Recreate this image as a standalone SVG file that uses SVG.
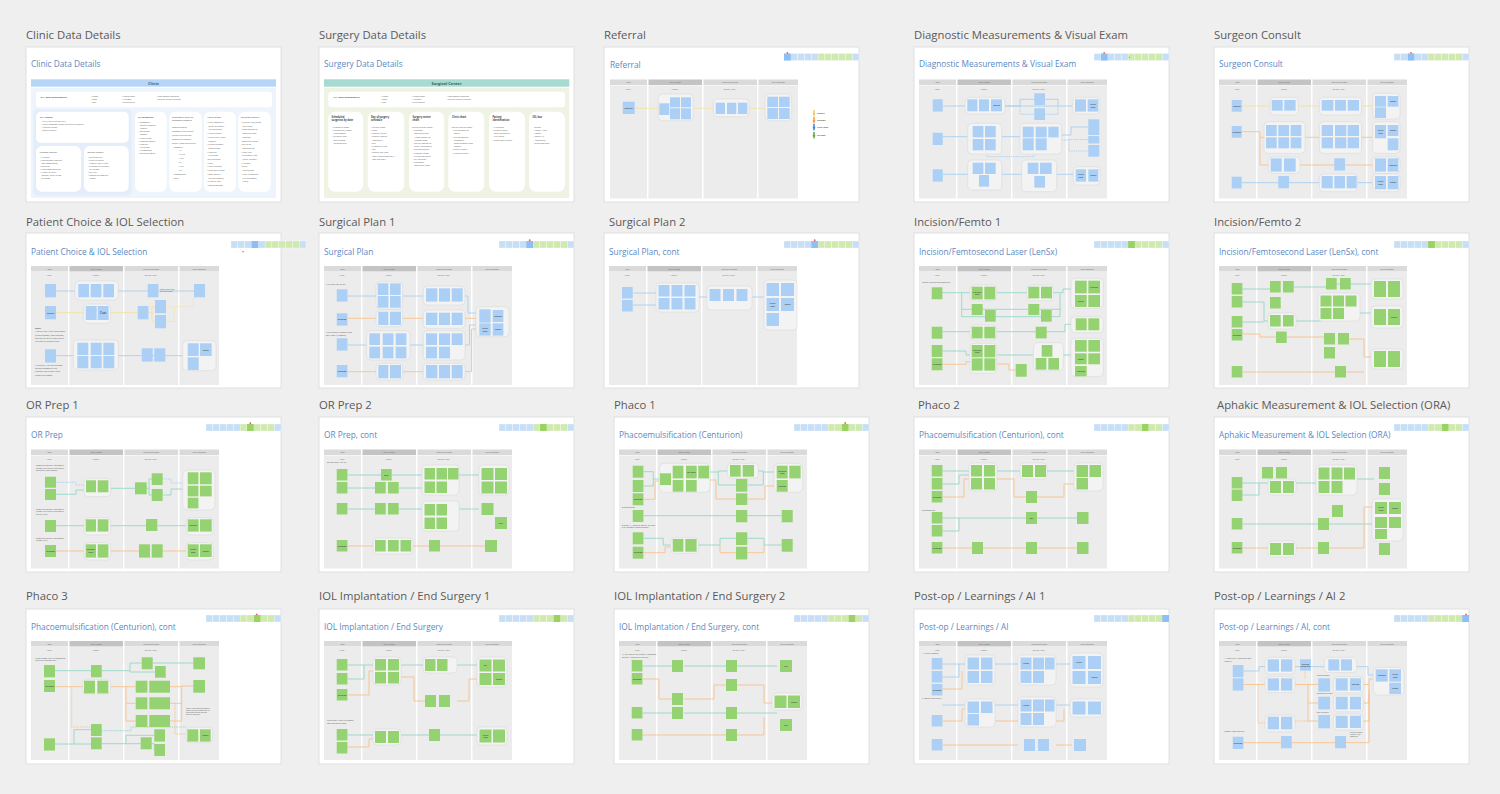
<svg xmlns="http://www.w3.org/2000/svg" width="1500" height="794" viewBox="0 0 1500 794">
<style>
.bg{fill:#efefef}
.card{fill:#fff;stroke:#e0e0e0;stroke-width:1}
.ct{font-family:"Open Sans",sans-serif;font-size:11.3px;fill:#5a5a5a}
.st{font-family:"Open Sans",sans-serif;font-size:8.3px;fill:#5b88c4}
.th{font-family:"Open Sans",sans-serif;font-size:2.1px;fill:#666;text-anchor:middle}
.tx{font-family:"Open Sans",sans-serif;font-size:2.1px;fill:#555}
.hd{font-family:"Open Sans",sans-serif;font-size:4px;font-weight:bold;text-anchor:middle}
.b{font-weight:bold}
.h2{font-size:2.5px;fill:#444}
.nt{font-family:"Open Sans",sans-serif;font-size:2.2px;font-weight:600;fill:#444;text-anchor:middle}
.w{fill:#fff}
.nb{fill:#abcff5}
.ng{fill:#95d372}
.g{fill:#f3f3f3;stroke:#d5d5d5;stroke-width:0.5}
.l{fill:none;stroke-width:0.9}
.ly{stroke:#f4e2a3}.lb{stroke:#a9d0f0}.lo{stroke:#f7c38d}.lt{stroke:#95d8c8}
.d{stroke-dasharray:1.4 0.9}
.cb{fill:#c7def7}.cg{fill:#d0e9af}.hb{fill:#8dbff2}.hg{fill:#9ad363}
.rd{fill:#ef5b5b}
</style>
<defs>
<g id="tbl">
<rect x="0" y="0" width="37" height="5.5" fill="#dadada"/>
<rect x="38.5" y="0" width="53.5" height="5.5" fill="#c3c3c3"/>
<rect x="93.5" y="0" width="53.5" height="5.5" fill="#dadada"/>
<rect x="148.5" y="0" width="39.5" height="5.5" fill="#dadada"/>
<rect x="0" y="6" width="37" height="113" fill="#ececec"/>
<rect x="38.5" y="6" width="53.5" height="113" fill="#ececec"/>
<rect x="93.5" y="6" width="53.5" height="113" fill="#ececec"/>
<rect x="148.5" y="6" width="39.5" height="113" fill="#ececec"/>
<text class="th" x="18.5" y="3.6">Role</text>
<text class="th" x="65.2" y="3.6">Data Needs</text>
<text class="th" x="120.2" y="3.6">Task or Decision</text>
<text class="th" x="168.2" y="3.6">Data Location</text>
<text class="th" x="18.5" y="10">Who...</text>
<text class="th" x="65.2" y="10">I need...</text>
<text class="th" x="120.2" y="10">so that I can...</text>
</g>
<g id="strip" stroke="#fff" stroke-width="0.3">
<rect class="cb" x="0" width="6.82" height="7"/><rect class="cb" x="6.82" width="6.82" height="7"/><rect class="cb" x="13.64" width="6.82" height="7"/><rect class="cb" x="20.46" width="6.82" height="7"/><rect class="cb" x="27.28" width="6.82" height="7"/>
<rect class="cg" x="34.1" width="6.82" height="7"/><rect class="cg" x="40.92" width="6.82" height="7"/><rect class="cg" x="47.74" width="6.82" height="7"/><rect class="cg" x="54.56" width="6.82" height="7"/><rect class="cg" x="61.38" width="6.82" height="7"/>
<rect class="cb" x="68.2" width="6.82" height="7"/>
</g>
<g id="pp"><circle cx="0" cy="-2" r="1"/><rect x="-1.2" y="-0.8" width="2.4" height="2.6" rx="0.6"/><rect x="-0.7" y="1.6" width="1.4" height="1.8"/></g>
</defs>
<rect class="bg" width="1500" height="794"/>

<!-- Card 1 -->
<g id="clinic-data-details" transform="translate(26,47)">
<text class="ct" y="-8">Clinic Data Details</text>
<rect class="card" width="255" height="155"/>
<text class="st" x="5" y="20">Clinic Data Details</text>
<rect x="5" y="32.3" width="245" height="7.4" fill="#b7d6f6"/>
<text class="hd" x="127.5" y="37.5" fill="#2f5f9e">Clinic</text>
<rect x="5" y="40.7" width="245" height="110.3" fill="#edf4fc"/>
<rect class="w" x="10" y="44.7" width="236" height="15.6" rx="3"/>
<text class="tx b" x="14.5" y="51">PHI - Basic demographics:</text>
<text class="tx" x="65" y="49.5">• Name<tspan x="65" dy="3">• DOB</tspan><tspan x="65" dy="3">• SSN</tspan></text>
<text class="tx" x="95.7" y="49.5">• Medications<tspan x="95.7" dy="3">• Allergies</tspan><tspan x="95.7" dy="3">• Referring Dr.</tspan></text>
<text class="tx" x="130.7" y="49.5">• Non-English speaking<tspan x="130.7" dy="3">• Deaf or hard of hearing</tspan></text>
<rect x="7.3" y="62.3" width="98.4" height="86.5" rx="4" fill="#e4eefa"/>
<rect class="w" x="10" y="64.7" width="92.7" height="31" rx="5"/>
<text class="tx b" x="14" y="70.5">PHI - Details</text>
<text class="tx" x="15.5" y="74.5">• NPI (Health Patient ID#)<tspan x="15.5" dy="3">• Chart Company (given for elective surgery)</tspan><tspan x="15.5" dy="3">• Medical history</tspan><tspan x="15.5" dy="3">• Ocular history</tspan></text>
<rect class="w" x="10" y="99" width="45" height="45.7" rx="6"/>
<text class="tx h2" x="13.5" y="106">Medical history</text>
<text class="tx" x="14" y="111">• Allergies<tspan x="14" dy="3">• Medications (and any</tspan><tspan x="15.5" dy="3">non-compliance)</tspan><tspan x="14" dy="3">• Diabetes</tspan><tspan x="14" dy="3">• High blood pressure</tspan><tspan x="14" dy="3">• History of heart</tspan><tspan x="15.5" dy="3">disease, heart attack,</tspan><tspan x="15.5" dy="3">or stroke</tspan></text>
<rect class="w" x="58" y="99" width="44.7" height="45.7" rx="6"/>
<text class="tx h2" x="61.5" y="106">Ocular history</text>
<text class="tx" x="62" y="111">• Referring MD<tspan x="62" dy="3">• Prior refractive</tspan><tspan x="63.5" dy="3">surgery (incl. LASIK)</tspan><tspan x="62" dy="3">• Previous eye surgery</tspan><tspan x="63.5" dy="3">or trauma</tspan><tspan x="62" dy="3">• Dry eye</tspan><tspan x="62" dy="3">• Contact/intraocular</tspan><tspan x="63.5" dy="3">lenses</tspan></text>
<rect class="w" x="109" y="64.7" width="31.7" height="80" rx="6"/>
<text class="tx b" x="112" y="71">Pre-op workup</text>
<text class="tx" x="112.5" y="76">• Diagnostic<tspan x="114" dy="3.1">device standard</tspan><tspan x="114" dy="3.1">reports</tspan><tspan x="112.5" dy="3.1">• Refraction</tspan><tspan x="114" dy="3.1">images</tspan><tspan x="112.5" dy="3.1">• Visual exam</tspan><tspan x="112.5" dy="3.1">• Surgeon consult</tspan><tspan x="112.5" dy="3.1">• Manifest</tspan><tspan x="114" dy="3.1">refraction</tspan><tspan x="112.5" dy="3.1">• Astigmatism</tspan><tspan x="112.5" dy="3.1">• Refractive goals</tspan></text>
<rect class="w" x="143.3" y="64.7" width="32.4" height="80" rx="6"/>
<text class="tx h2" x="146" y="71">Diagnostic data or<tspan x="146" dy="3.3">standard reports</tspan></text>
<text class="tx" x="146" y="81">Combination of<tspan x="146" dy="3.9">diagnostic data values</tspan><tspan x="146" dy="3.9">(values entered and</tspan><tspan x="146" dy="3.9">images or standard</tspan><tspan x="146" dy="3.9">output from each device</tspan><tspan x="147" dy="3.9">• Biometry</tspan><tspan x="152" dy="3.9">◦ AL</tspan><tspan x="152" dy="3.9">◦ K1/K2</tspan><tspan x="152" dy="3.9">◦ ACD</tspan><tspan x="152" dy="3.9">◦ LT</tspan><tspan x="152" dy="3.9">◦ WTW</tspan><tspan x="152" dy="3.9">◦ CT</tspan><tspan x="147" dy="3.9">• Topography</tspan><tspan x="147" dy="3.9">• OCT</tspan></text>
<rect class="w" x="178" y="64.7" width="32" height="80" rx="6"/>
<text class="tx h2" x="181" y="71">Visual Exam</text>
<text class="tx" x="181" y="76">• Chief complaint<tspan x="182.5" dy="3.7">(prior to surgery</tspan><tspan x="182.5" dy="3.7">for insurance)</tspan><tspan x="181" dy="3.7">• Health history</tspan><tspan x="181" dy="3.7">• Visual acuity (with</tspan><tspan x="182.5" dy="3.7">glasses)</tspan><tspan x="181" dy="3.7">• Current glasses</tspan><tspan x="182.5" dy="3.7">prescription</tspan><tspan x="181" dy="3.7">• Manifest</tspan><tspan x="182.5" dy="3.7">refraction</tspan><tspan x="181" dy="3.7">• Eye pressure</tspan><tspan x="181" dy="3.7">• Pupil</tspan><tspan x="181" dy="3.7">• Pupil reaction</tspan><tspan x="181" dy="3.7">• Peripheral vision</tspan><tspan x="181" dy="3.7">• OSDI (ocular</tspan><tspan x="182.5" dy="3.7">surface disease)</tspan><tspan x="181" dy="3.7">• Lifestyle Info</tspan><tspan x="181" dy="3.7">• Signed consent</tspan></text>
<rect class="w" x="212.3" y="64.7" width="32.4" height="80" rx="6"/>
<text class="tx h2" x="215" y="71">Surgeon consult</text>
<text class="tx" x="215" y="76">• Cataract risk (grade<tspan x="216.5" dy="3.7">per exam)</tspan><tspan x="215" dy="3.7">• Confirmation of</tspan><tspan x="216.5" dy="3.7">measures and</tspan><tspan x="216.5" dy="3.7">surgeon</tspan><tspan x="215" dy="3.7">• Operative notes</tspan><tspan x="215" dy="3.7">• Eye to be</tspan><tspan x="216.5" dy="3.7">operated on</tspan><tspan x="215" dy="3.7">• Lens type</tspan><tspan x="215" dy="3.7">• Treatment type</tspan><tspan x="216.5" dy="3.7">(astig. LRI/ORA)</tspan><tspan x="215" dy="3.7">• Allergies</tspan><tspan x="215" dy="3.7">• Drug</tspan><tspan x="216.5" dy="3.7">interactions</tspan><tspan x="215" dy="3.7">• Add'l treatments</tspan><tspan x="216.5" dy="3.7">(e.g. glaucoma,</tspan><tspan x="216.5" dy="3.7">MIGS)</tspan></text>
</g>

<!-- Card 2 -->
<g id="surgery-data-details" transform="translate(319,47)">
<text class="ct" y="-8">Surgery Data Details</text>
<rect class="card" width="255" height="155"/>
<text class="st" x="5" y="20">Surgery Data Details</text>
<rect x="5" y="32.3" width="245.3" height="7.4" fill="#a7dbd1"/>
<text class="hd" x="127.6" y="37.5" fill="#2b6b5e">Surgical Center</text>
<rect x="5" y="40.7" width="245.3" height="110.3" fill="#eef3e4"/>
<rect class="w" x="9.3" y="44.7" width="236.7" height="15.6" rx="3"/>
<text class="tx b" x="14.5" y="51">PHI - Basic demographics:</text>
<text class="tx" x="62" y="49.5">• Name<tspan x="62" dy="3">• DOB</tspan><tspan x="62" dy="3">• SSN</tspan></text>
<text class="tx" x="92.7" y="49.5">• Medications<tspan x="92.7" dy="3">• Allergies</tspan><tspan x="92.7" dy="3">• Referring Dr.</tspan></text>
<text class="tx" x="127.7" y="49.5">• Non-English speaking<tspan x="127.7" dy="3">• Deaf or hard of hearing</tspan></text>
<rect class="w" x="9.3" y="64.7" width="35" height="80" rx="7"/>
<rect class="w" x="48.7" y="64.7" width="36.6" height="80" rx="7"/>
<rect class="w" x="90" y="64.7" width="35.3" height="80" rx="7"/>
<rect class="w" x="129.3" y="64.7" width="36" height="80" rx="7"/>
<rect class="w" x="170" y="64.7" width="36" height="80" rx="7"/>
<rect class="w" x="210" y="64.7" width="36" height="80" rx="7"/>
<text class="tx b h2" x="12.5" y="71">Scheduled<tspan x="12.5" dy="3.3">surgeries by date</tspan></text>
<text class="tx b h2" x="52" y="71">Day of surgery<tspan x="52" dy="3.3">schedule</tspan></text>
<text class="tx b h2" x="93.5" y="71">Surgery center<tspan x="93.5" dy="3.3">chart</tspan></text>
<text class="tx b h2" x="133" y="71">Clinic chart</text>
<text class="tx b h2" x="173.5" y="71">Patient<tspan x="173.5" dy="3.3">identification</tspan></text>
<text class="tx b h2" x="213.5" y="71">IOL box</text>
<text class="tx" x="13" y="80.7">• Procedure name<tspan x="13" dy="3.2">• Planned IOL Model</tspan><tspan x="14.5" dy="3.2">(Lens/power)</tspan><tspan x="13" dy="3.2">• Payment (esp.</tspan><tspan x="14.5" dy="3.2">outstanding</tspan><tspan x="14.5" dy="3.2">balances due)</tspan></text>
<text class="tx" x="52" y="80.7">• Patient name<tspan x="52" dy="3.2">• DOB</tspan><tspan x="52" dy="3.2">• Time of arrival</tspan><tspan x="52" dy="3.2">• Time of approx.</tspan><tspan x="53.5" dy="3.2">procedure</tspan><tspan x="52" dy="3.2">• Eye</tspan><tspan x="52" dy="3.2">• Procedure type</tspan><tspan x="52" dy="3.2">• IOL</tspan><tspan x="52" dy="3.2">• Special req. (and</tspan><tspan x="53.5" dy="3.2">post transactions day 1</tspan><tspan x="53.5" dy="3.2">post-op appt.)</tspan></text>
<text class="tx" x="93" y="81">Can be EMR or paper:<tspan x="94" dy="3.2">• Surgeon</tspan><tspan x="95.5" dy="3.2">Operative plan</tspan><tspan x="95.5" dy="3.2">(from planner or</tspan><tspan x="95.5" dy="3.2">custom form)</tspan><tspan x="94" dy="3.2">• Lot/ID (implant w/</tspan><tspan x="95.5" dy="3.2">pass if applicable)</tspan><tspan x="94" dy="3.2">• Surgeon orders</tspan><tspan x="94" dy="3.2">• Consent forms</tspan><tspan x="94" dy="3.2">• Pre-op ISO notes</tspan><tspan x="94" dy="3.2">• RN screener</tspan><tspan x="94" dy="3.2">• Surgeon's</tspan><tspan x="95.5" dy="3.2">Operative Notes</tspan></text>
<text class="tx" x="132.5" y="81">Can be EMR or paper:<tspan x="133.5" dy="3.2">• Pre-op work-up</tspan><tspan x="135" dy="3.2">notes</tspan><tspan x="133.5" dy="3.2">• Pre-op workup</tspan><tspan x="135" dy="3.2">diagnostic</tspan><tspan x="135" dy="3.2">measurements and</tspan><tspan x="135" dy="3.2">images</tspan><tspan x="133.5" dy="3.2">• Ocular history</tspan><tspan x="133.5" dy="3.2">• Medical history</tspan></text>
<text class="tx" x="173.5" y="80.7">• Wristband<tspan x="173.5" dy="3.2">• Sticker placed</tspan><tspan x="175" dy="3.2">solely on patient</tspan><tspan x="175" dy="3.2">(e.g. head)</tspan><tspan x="173.5" dy="3.2">• Paper sign-in sheet</tspan></text>
<text class="tx" x="214.5" y="80.7">• Brand<tspan x="214.5" dy="3.2">• Model / type</tspan><tspan x="214.5" dy="3.2">• Power</tspan><tspan x="214.5" dy="3.2">• Toricity (if</tspan><tspan x="216" dy="3.2">applicable)</tspan><tspan x="214.5" dy="3.2">• Expiration date</tspan></text>
</g>

<!-- Card 3 -->
<g id="referral" transform="translate(604,47)">
<text class="ct" y="-8">Referral</text>
<rect class="card" width="255" height="155"/>
<text class="st" x="6" y="20.5">Referral</text>
<use href="#strip" x="180" y="6.5"/>
<rect class="hb" x="180" y="6.5" width="6.82" height="7"/>
<circle class="rd" cx="183.4" cy="5.8" r="0.9"/>
<use href="#tbl" x="6" y="32.5"/>
<g class="conn"><path class="l ly" d="M31 61.3H161"/></g>
<rect class="nb" x="18.7" y="54.7" width="12" height="12.3"/><text class="nt" x="24.7" y="61.5">Referral</text>
<rect class="g" x="54.3" y="47" width="35" height="26.7" rx="4"/>
<rect class="nb" x="55.3" y="56.3" width="10" height="11.7"/><rect class="nb" x="66" y="50.3" width="10" height="10"/><rect class="nb" x="66" y="61.3" width="10" height="11"/><rect class="nb" x="77" y="50.3" width="10" height="10"/><rect class="nb" x="77" y="61.3" width="10" height="11"/>
<rect class="g" x="109.3" y="52" width="35.7" height="17.7" rx="4"/>
<rect class="nb" x="111.7" y="55.7" width="9.3" height="11.3"/><rect class="nb" x="123" y="55.7" width="9.3" height="11.3"/><rect class="nb" x="134" y="55.7" width="9.3" height="11.3"/>
<rect class="g" x="161" y="47" width="26.7" height="26.7" rx="4"/>
<rect class="nb" x="163.3" y="49.7" width="10.7" height="10.3"/><rect class="nb" x="175" y="49.7" width="10.7" height="10.3"/><rect class="nb" x="163.3" y="61" width="10.7" height="11"/><rect class="nb" x="175" y="61" width="10.7" height="11"/>
<use href="#pp" x="210" y="66" fill="#f6c85b"/><use href="#pp" x="210" y="73" fill="#f29a3a"/><use href="#pp" x="210" y="80" fill="#3b7dd8"/><use href="#pp" x="210" y="88" fill="#5fa52e"/>
<text class="tx b" x="213" y="66.8">Patient</text><text class="tx b" x="213" y="73.8">Surgeon</text><text class="tx b" x="213" y="80.8">Clinic Staff</text><text class="tx b" x="213" y="88.8">OR Staff</text>
</g>

<!-- Card 4 -->
<g id="diagnostic-measurements" transform="translate(914,47)">
<text class="ct" y="-8">Diagnostic Measurements &amp; Visual Exam</text>
<rect class="card" width="255" height="155"/>
<text class="st" x="5" y="20.3">Diagnostic Measurements &amp; Visual Exam</text>
<use href="#strip" x="180" y="6.5"/>
<rect class="hb" x="186.82" y="6.5" width="6.82" height="7"/>
<circle class="rd" cx="190.2" cy="5.8" r="0.9"/><circle class="rd" cx="215.3" cy="10.3" r="0.6"/>
<use href="#tbl" x="5" y="32.5"/>
<g class="conn">
<path class="l lb" d="M29 59H158.7M91 59H106V52.3H120.3M131 52.3H144V59"/>
<path class="l lb d" d="M106 59V67.3H120.3M131 67.3H144V59"/>
<path class="l lb" d="M29 89.7H53.7M87.7 89.7H106M147.7 88H157V80H174.3"/>
<path class="l lb d" d="M147.7 93H155V104H174.3M155 93V92.5H174.3M73 106V109.7H120V106"/>
<path class="l lb" d="M29 127.3H159.3"/>
</g>
<rect class="nb" x="18.7" y="52.3" width="10" height="12.3"/><rect class="nb" x="18.7" y="85.7" width="10" height="12.3"/><rect class="nb" x="18.7" y="122.3" width="10" height="12.3"/>
<rect class="g" x="51" y="50.3" width="40" height="16.7" rx="4"/>
<rect class="nb" x="53.3" y="52.3" width="10" height="12"/><rect class="nb" x="65" y="52.3" width="10" height="12"/><rect class="nb" x="77" y="52.3" width="11" height="12"/><text class="nt" x="82.5" y="59">OCT/B</text>
<rect class="nb" x="120.3" y="46.3" width="10.7" height="11.7"/><rect class="nb" x="120.3" y="61.3" width="10.7" height="11.7"/>
<rect class="g" x="158.7" y="50.3" width="27.3" height="16.7" rx="4"/>
<rect class="nb" x="161" y="52.3" width="11" height="12.3"/><rect class="nb" x="173.7" y="52.3" width="10.7" height="12.3"/><text class="nt" x="179" y="58">Clinic</text><text class="nt" x="179" y="60.6">EMR</text>
<rect class="g" x="53.7" y="76.3" width="34" height="30.7" rx="4"/>
<rect class="nb" x="58.7" y="79" width="10.7" height="11.3"/><rect class="nb" x="71" y="79" width="10.7" height="11.3"/><rect class="nb" x="58.7" y="92" width="10.7" height="11.3"/><rect class="nb" x="71" y="92" width="10.7" height="11.3"/>
<rect class="g" x="106" y="76.3" width="41.7" height="30.7" rx="4"/>
<rect class="nb" x="108.7" y="79.7" width="11" height="10.7"/><rect class="nb" x="121.7" y="79.7" width="11" height="10.7"/><rect class="nb" x="134.3" y="79.7" width="10.3" height="10.7"/><rect class="nb" x="108.7" y="91.3" width="11" height="12"/><rect class="nb" x="121.7" y="91.3" width="11" height="12"/>
<rect class="nb" x="174.3" y="72.3" width="11" height="15.7"/><rect class="nb" x="174.3" y="89" width="11" height="7.5"/><rect class="nb" x="174.3" y="98" width="11" height="11.7"/>
<rect class="g" x="53.7" y="113" width="34" height="30" rx="4"/>
<rect class="nb" x="58.7" y="115.7" width="10.7" height="11.3"/><rect class="nb" x="71" y="115.7" width="10.7" height="11.3"/><rect class="nb" x="65" y="128" width="10" height="11.7"/>
<rect class="g" x="107.7" y="113" width="35" height="31.7" rx="4"/>
<rect class="nb" x="113.7" y="115.7" width="10.7" height="11.3"/><rect class="nb" x="126" y="115.7" width="11.7" height="11.3"/><rect class="nb" x="120.3" y="129" width="10.7" height="11.7"/>
<rect class="g" x="159.3" y="119.7" width="26.7" height="18.3" rx="4"/>
<rect class="nb" x="161.7" y="122.3" width="10.3" height="12.3"/><rect class="nb" x="174.3" y="122.3" width="10" height="12.3"/><text class="nt" x="166.9" y="128">Clinic</text><text class="nt" x="166.9" y="130.6">EMR</text><text class="nt" x="179.3" y="129.3">Paper</text>
</g>

<!-- Card 5 -->
<g id="surgeon-consult" transform="translate(1214,47)">
<text class="ct" y="-8">Surgeon Consult</text>
<rect class="card" width="255" height="155"/>
<text class="st" x="5" y="20.3">Surgeon Consult</text>
<use href="#strip" x="180" y="6.5"/>
<rect class="hb" x="193.64" y="6.5" width="6.82" height="7"/>
<circle class="rd" cx="197" cy="5.8" r="0.9"/>
<use href="#tbl" x="5" y="32.5"/>
<g class="conn">
<path class="l ly" d="M28 59H158.7"/>
<path class="l lo" d="M28 84.7H46V118H158.7M46 90.3H158.7"/>
<path class="l lb" d="M28 135.7H158.7"/>
</g>
<rect class="nb" x="17.7" y="53" width="10" height="11.7"/><text class="nt" x="22.7" y="59.5">Patient</text>
<rect class="nb" x="17.7" y="79" width="10" height="11.7"/><text class="nt" x="22.7" y="85.5">Surgeon</text>
<rect class="nb" x="17.7" y="129.7" width="10" height="11.7"/>
<rect class="g" x="56" y="50.3" width="28.3" height="17.7" rx="4"/>
<rect class="nb" x="57.7" y="53" width="11" height="10.7"/><rect class="nb" x="70.3" y="53" width="11.3" height="10.7"/>
<rect class="g" x="105.3" y="50.3" width="42.3" height="17.7" rx="4"/>
<rect class="nb" x="107.7" y="53" width="11.7" height="10.7"/><rect class="nb" x="121" y="53" width="11" height="10.7"/><rect class="nb" x="133.7" y="53" width="11.3" height="10.7"/>
<rect class="g" x="158.7" y="46.3" width="27.3" height="25.7" rx="4"/>
<rect class="nb" x="161" y="49" width="11" height="10.7"/><rect class="nb" x="173.7" y="49" width="10.7" height="10.7"/><text class="nt" x="179" y="55">Paper</text><rect class="nb" x="161" y="60.3" width="11" height="10.7"/>
<rect class="g" x="50" y="74.7" width="41" height="31.7" rx="4"/>
<rect class="nb" x="52" y="78" width="10.7" height="11"/><rect class="nb" x="64.3" y="78" width="10.7" height="11"/><rect class="nb" x="76.7" y="78" width="10.7" height="11"/><rect class="nb" x="52" y="90.3" width="10.7" height="11"/><rect class="nb" x="64.3" y="90.3" width="10.7" height="11"/><rect class="nb" x="76.7" y="90.3" width="10.7" height="11"/>
<rect class="g" x="105.3" y="74.7" width="42.3" height="31.7" rx="4"/>
<rect class="nb" x="107.7" y="78" width="11.3" height="11"/><rect class="nb" x="121" y="78" width="11.3" height="11"/><rect class="nb" x="133.7" y="78" width="11.3" height="11"/><rect class="nb" x="107.7" y="90.3" width="11.3" height="11"/><rect class="nb" x="121" y="90.3" width="11.3" height="11"/><rect class="nb" x="133.7" y="90.3" width="11.3" height="11"/>
<rect class="g" x="158.7" y="74.7" width="27.3" height="31.7" rx="4"/>
<rect class="nb" x="161" y="78" width="11" height="13.3"/><text class="nt" x="166.5" y="84">Clinic</text><text class="nt" x="166.5" y="86.6">EMR</text><rect class="nb" x="173.7" y="78" width="10.7" height="11"/><text class="nt" x="179" y="84">Paper</text><rect class="nb" x="173.7" y="91.3" width="10.7" height="12"/>
<rect class="g" x="54.3" y="109.7" width="31.7" height="16.7" rx="4"/>
<rect class="nb" x="56.7" y="111.3" width="11" height="13.3"/><rect class="nb" x="70" y="111.3" width="11.7" height="13.3"/>
<rect class="nb" x="120.3" y="111.3" width="10.7" height="12.3"/>
<rect class="g" x="158.7" y="109.7" width="27.3" height="16.7" rx="4"/>
<rect class="nb" x="161" y="111.3" width="11" height="13.3"/><rect class="nb" x="173.7" y="111.3" width="10.7" height="13.3"/><text class="nt" x="179" y="118.5">Planner</text>
<rect class="nb" x="64.3" y="129" width="10.7" height="12.3"/>
<rect class="g" x="105.3" y="127" width="38.3" height="17.7" rx="4"/>
<rect class="nb" x="107.7" y="129" width="11" height="12.3"/><rect class="nb" x="120.3" y="129" width="10.7" height="12.3"/><rect class="nb" x="132.7" y="129" width="10" height="12.3"/>
<rect class="g" x="158.7" y="127" width="27.3" height="17.7" rx="4"/>
<rect class="nb" x="161" y="129" width="11" height="13.3"/><text class="nt" x="166.5" y="135">Clinic</text><text class="nt" x="166.5" y="137.6">EMR</text><rect class="nb" x="173.7" y="129" width="10.7" height="13.3"/><text class="nt" x="179" y="136.3">Paper</text>
</g>

<!-- Card 6 -->
<g id="patient-choice" transform="translate(26,233)">
<text class="ct" y="-7.5">Patient Choice &amp; IOL Selection</text>
<rect class="card" width="255" height="155"/>
<text class="st" x="5" y="22">Patient Choice &amp; IOL Selection</text>
<use href="#strip" x="205" y="8"/>
<rect class="hb" x="225.46" y="8" width="6.82" height="7"/>
<circle class="rd" cx="217" cy="18.7" r="0.8"/>
<use href="#tbl" x="5" y="33"/>
<g class="conn">
<path class="l lb" d="M30 58H168"/>
<path class="l ly" d="M30 79.7H111.7M122.4 79.7H126V73.7H129M126 79.7V88.7H129"/>
<path class="l ly d" d="M140 73.7H167.3V64M140 88.7H148V73.7"/>
<path class="l lb" d="M30 122.7H161.7"/>
</g>
<rect class="nb" x="19" y="51" width="11" height="13.3"/><rect class="nb" x="19" y="73" width="11" height="13.3"/><text class="nt" x="24.5" y="80.5">Patient</text><rect class="nb" x="19" y="116.3" width="11" height="13.3"/>
<rect class="g" x="49" y="48" width="43.3" height="19" rx="4"/>
<rect class="nb" x="52.3" y="51" width="10.7" height="13.3"/><rect class="nb" x="64.7" y="51" width="10.7" height="13.3"/><rect class="nb" x="77.3" y="51" width="10.7" height="13.3"/>
<rect class="nb" x="121.7" y="51" width="10.7" height="13.3"/>
<text class="tx" x="134" y="57" style="font-size:1.8px">There is only one<tspan x="134" dy="2.4">toric IOL brand</tspan></text>
<rect class="nb" x="168" y="51" width="11" height="13.3"/>
<rect class="g" x="57.3" y="71" width="27.3" height="19.3" rx="4"/>
<rect class="nb" x="59.7" y="73" width="11" height="14"/><rect class="nb" x="71.7" y="73" width="11" height="14"/><text class="nt" x="77.2" y="81" style="font-size:3px">Cost</text>
<rect class="nb" x="111.7" y="73" width="10.7" height="13.3"/><rect class="nb" x="129" y="67" width="11" height="13.3"/><rect class="nb" x="129" y="82" width="11" height="13.3"/>
<text class="tx b" x="9" y="96">NOTE:</text>
<text class="tx" x="9" y="99.3">A toric is very rarely dependent<tspan x="9" dy="3.3">(clinic/surgeon). Toric options,</tspan><tspan x="9" dy="3.3">lighting, or toric is required by</tspan><tspan x="9" dy="3.3">treating the surgical plan.</tspan></text>
<rect class="g" x="47.3" y="107" width="45" height="30" rx="4"/>
<rect class="nb" x="51.3" y="109.7" width="11" height="12.3"/><rect class="nb" x="64.7" y="109.7" width="11" height="12.3"/><rect class="nb" x="77.3" y="109.7" width="11" height="12.3"/><rect class="nb" x="51.3" y="123" width="11" height="12.3"/><rect class="nb" x="64.7" y="123" width="11" height="12.3"/><rect class="nb" x="77.3" y="123" width="11" height="12.3"/>
<rect class="nb" x="115.7" y="115.3" width="11" height="13.3"/><rect class="nb" x="128.3" y="115.3" width="11" height="13.3"/>
<rect class="g" x="156.7" y="107.7" width="33.3" height="30" rx="4"/>
<rect class="nb" x="161.7" y="110.3" width="11" height="12.7"/><rect class="nb" x="174" y="110.3" width="11.7" height="12.7"/><text class="nt" x="179.8" y="117.5">Paper</text><rect class="nb" x="161.7" y="124.3" width="11" height="12.7"/>
<text class="tx" x="9" y="133">Alternately, the IOL/surgeon<tspan x="9" dy="3.2">decides/chooses in the</tspan><tspan x="9" dy="3.2">Surgical Plan before these</tspan><tspan x="9" dy="3.2">lenses are chosen.</tspan></text>
</g>

<!-- Card 7 -->
<g id="surgical-plan-1" transform="translate(319,233)">
<text class="ct" y="-7.5">Surgical Plan 1</text>
<rect class="card" width="255" height="155"/>
<text class="st" x="5" y="22">Surgical Plan</text>
<use href="#strip" x="180" y="8"/>
<rect class="hb" x="207.28" y="8" width="6.82" height="7"/>
<circle class="rd" cx="210.7" cy="7.2" r="0.9"/>
<use href="#tbl" x="5" y="33"/>
<g class="conn">
<path class="l lb" d="M28.4 63H57M83.7 63H104.3M146 63H149V80H157"/>
<path class="l lo" d="M28.4 85.3H57M83.7 85.3H104.3M146 85.3H157"/>
<path class="l lb" d="M28.4 112H47.7M91 112H104.3M146 112H150.5V92H157"/>
<path class="l lo" d="M28.4 138.7H57M83.7 138.7H104.3M146 138.7H152.5V96H157"/>
</g>
<text class="tx" x="7" y="52.3">With toric IOL in use</text>
<text class="tx" x="7" y="99.7">With Femto (if chosen) and<tspan x="7" dy="2.8">ORA/toric (if chosen)</tspan></text>
<rect class="nb" x="17.7" y="56.3" width="10.7" height="12.3"/><rect class="nb" x="17.7" y="80.3" width="10.7" height="12.3"/><text class="nt" x="23" y="87">Surgeon</text><rect class="nb" x="17.7" y="105.3" width="10.7" height="12.3"/><rect class="nb" x="17.7" y="132" width="10.7" height="12.3"/><text class="nt" x="23" y="138.7">Surgeon</text>
<rect class="g" x="57" y="48.7" width="26.7" height="27.3" rx="4"/>
<rect class="nb" x="58.7" y="50.3" width="10.7" height="11.7"/><rect class="nb" x="71" y="50.3" width="10.7" height="11.7"/><rect class="nb" x="58.7" y="63" width="10.7" height="11.7"/><rect class="nb" x="71" y="63" width="10.7" height="11.7"/>
<rect class="g" x="104.3" y="53" width="41.7" height="19" rx="4"/>
<rect class="nb" x="107" y="55.3" width="11.3" height="13.3"/><rect class="nb" x="120" y="55.3" width="11" height="13.3"/><rect class="nb" x="132.7" y="55.3" width="11" height="13.3"/>
<rect class="g" x="57" y="77" width="26.7" height="16.7" rx="4"/>
<rect class="nb" x="59.3" y="78.7" width="10" height="13.3"/><rect class="nb" x="71" y="78.7" width="11" height="13.3"/>
<rect class="g" x="104.3" y="77" width="41.7" height="18.3" rx="4"/>
<rect class="nb" x="107" y="79.7" width="11.3" height="12.3"/><rect class="nb" x="120" y="79.7" width="11" height="12.3"/><rect class="nb" x="132.7" y="79.7" width="11" height="12.3"/>
<rect class="g" x="47.7" y="97.7" width="43.3" height="29.3" rx="4"/>
<rect class="nb" x="50.3" y="100.3" width="10.7" height="11.7"/><rect class="nb" x="63.7" y="100.3" width="10.7" height="11.7"/><rect class="nb" x="76.7" y="100.3" width="10.7" height="11.7"/><rect class="nb" x="50.3" y="113.7" width="10.7" height="11.7"/><rect class="nb" x="63.7" y="113.7" width="10.7" height="11.7"/><rect class="nb" x="76.7" y="113.7" width="10.7" height="11.7"/>
<rect class="g" x="104.3" y="97.7" width="41.7" height="29.3" rx="4"/>
<rect class="nb" x="107" y="100.3" width="11" height="11.7"/><rect class="nb" x="120" y="100.3" width="11" height="11.7"/><rect class="nb" x="132.7" y="100.3" width="11" height="11.7"/><rect class="nb" x="107" y="113.7" width="11" height="11.7"/><rect class="nb" x="120" y="113.7" width="11" height="11.7"/>
<rect class="g" x="57" y="130.3" width="26.7" height="16.7" rx="4"/>
<rect class="nb" x="59.3" y="132" width="10" height="13.3"/><rect class="nb" x="71" y="132" width="11" height="13.3"/>
<rect class="g" x="104.3" y="130.3" width="41.7" height="16.7" rx="4"/>
<rect class="nb" x="107" y="132" width="11.3" height="13.3"/><rect class="nb" x="120" y="132" width="11" height="13.3"/><rect class="nb" x="132.7" y="132" width="11" height="13.3"/>
<rect class="g" x="157" y="73.7" width="33" height="30" rx="4"/>
<rect class="nb" x="160.3" y="76.3" width="11.3" height="13.3"/><rect class="nb" x="173.7" y="77" width="10.7" height="12"/><text class="nt" x="179" y="83.8">Planner</text><rect class="nb" x="160.3" y="90.3" width="11.3" height="12.3"/><text class="nt" x="166" y="96">Clinic</text><text class="nt" x="166" y="98.6">EMR</text><rect class="nb" x="173.7" y="90.3" width="10.7" height="12.3"/><text class="nt" x="179" y="97.3">Paper</text>
</g>

<!-- Card 8 -->
<g id="surgical-plan-2" transform="translate(604,233)">
<text class="ct" x="5" y="-7.5">Surgical Plan 2</text>
<rect class="card" width="255" height="155"/>
<text class="st" x="5" y="22">Surgical Plan, cont</text>
<use href="#strip" x="180" y="8"/>
<rect class="hb" x="207.28" y="8" width="6.82" height="7"/>
<circle class="rd" cx="210.7" cy="7.2" r="0.9"/>
<use href="#tbl" x="5" y="33"/>
<g class="conn">
<path class="l lb" d="M28.7 60H52M28.7 72H52M95 64H103M148 64H160"/>
</g>
<rect class="nb" x="18" y="54" width="10.7" height="11.5"/><rect class="nb" x="18" y="67" width="10.7" height="11.5"/>
<rect class="g" x="52" y="50" width="43" height="29" rx="4"/>
<rect class="nb" x="54.5" y="52" width="11" height="11.5"/><rect class="nb" x="67.5" y="52" width="11" height="11.5"/><rect class="nb" x="80.5" y="52" width="11" height="11.5"/><rect class="nb" x="54.5" y="65" width="11" height="11.5"/><rect class="nb" x="67.5" y="65" width="11" height="11.5"/><rect class="nb" x="80.5" y="65" width="11" height="11.5"/>
<rect class="g" x="103" y="53" width="45" height="24" rx="4"/>
<rect class="nb" x="105.5" y="56" width="11" height="12"/><rect class="nb" x="119" y="56" width="11" height="12"/><rect class="nb" x="132.5" y="56" width="11" height="12"/>
<rect class="g" x="160" y="47" width="33" height="50" rx="4"/>
<rect class="nb" x="162.5" y="50" width="12.5" height="13"/><rect class="nb" x="177" y="50" width="13" height="13"/><rect class="nb" x="162.5" y="65" width="12.5" height="13"/><text class="nt" x="168.7" y="71">Clinic</text><text class="nt" x="168.7" y="73.6">EMR</text><rect class="nb" x="177" y="65" width="13" height="13"/><text class="nt" x="183.5" y="72.3">Paper</text><rect class="nb" x="162.5" y="80" width="12.5" height="13"/>
</g>

<!-- Card 9 -->
<g id="incision-femto-1" transform="translate(914,233)">
<text class="ct" y="-7.5">Incision/Femto 1</text>
<rect class="card" width="255" height="155"/>
<text class="st" x="5" y="22">Incision/Femtosecond Laser (LenSx)</text>
<use href="#strip" x="180" y="8"/>
<rect class="hg" x="214.1" y="8" width="6.82" height="7"/>
<use href="#tbl" x="5" y="33"/>
<g class="conn">
<path class="l lt" d="M28.4 59.7H56M82.7 59.7H112.7M139.3 59.7H149V56H157M47.7 59.7V76.3H57.7M68.7 76.3H114.3M125.3 76.3H146V61M47.7 76.3V83.7H71M81.7 83.7H127M137.7 83.7H146V76"/>
<path class="l lt" d="M28.4 98.7H56M82.7 98.7H121.7M132.7 98.7H151V91.3H157"/>
<path class="l lt" d="M28.4 118H52V122H57.7M82.7 122H119.3M149.3 122H157"/>
<path class="l lo" d="M28.4 131.3H52V128.7H56M82.7 131H95V137H101.7"/>
</g>
<text class="tx" x="8.3" y="49.7">Before and during procedure</text>
<rect class="ng" x="17.7" y="54.3" width="10.7" height="12"/><rect class="ng" x="17.7" y="93.7" width="10.7" height="12"/><rect class="ng" x="17.7" y="112" width="10.7" height="12"/><rect class="ng" x="17.7" y="125.3" width="10.7" height="12"/><text class="nt" x="23" y="132">Surgeon</text>
<rect class="g" x="56" y="52" width="26.7" height="15.7" rx="4"/>
<rect class="ng" x="57.7" y="53.7" width="11" height="12.7"/><text class="nt" x="63.2" y="59.5">Surgical</text><text class="nt" x="63.2" y="62.1">Plan</text><rect class="ng" x="70.3" y="53.7" width="11" height="12.7"/>
<rect class="ng" x="57.7" y="71" width="11" height="11"/><rect class="ng" x="71" y="77" width="10.7" height="11.7"/>
<rect class="g" x="112.7" y="52" width="26.7" height="15.7" rx="4"/>
<rect class="ng" x="114.3" y="53.7" width="11" height="11.7"/><rect class="ng" x="127" y="53.7" width="11" height="11.7"/>
<rect class="ng" x="114.3" y="71" width="11" height="11"/><rect class="ng" x="127" y="77" width="10.7" height="11.7"/>
<rect class="g" x="157" y="45.3" width="32.3" height="30" rx="4"/>
<rect class="ng" x="161" y="47.7" width="11.7" height="12.7"/><rect class="ng" x="174.3" y="47.7" width="11.7" height="12.7"/><text class="nt" x="180.2" y="54.5">Planner</text><rect class="ng" x="161" y="62" width="11.7" height="12"/><text class="nt" x="166.8" y="68.7">Paper</text><rect class="ng" x="174.3" y="62" width="11.7" height="12"/>
<rect class="g" x="56" y="92" width="26.7" height="15" rx="4"/>
<rect class="ng" x="57.7" y="93.7" width="11" height="11.7"/><rect class="ng" x="70.3" y="93.7" width="11" height="11.7"/>
<rect class="ng" x="121.7" y="93.7" width="11" height="11.7"/>
<rect class="g" x="157" y="83.7" width="32.3" height="16" rx="4"/>
<rect class="ng" x="161.7" y="85.3" width="11" height="12"/><rect class="ng" x="174.3" y="85.3" width="11" height="12"/>
<rect class="g" x="56" y="110.3" width="26.7" height="30" rx="4"/>
<rect class="ng" x="57.7" y="112" width="11" height="12.3"/><text class="nt" x="63.2" y="117.8">Surgical</text><text class="nt" x="63.2" y="120.4">Plan</text><rect class="ng" x="70.3" y="112" width="11" height="12.3"/><rect class="ng" x="57.7" y="125.3" width="11" height="12.3"/><rect class="ng" x="70.3" y="125.3" width="11" height="12.3"/>
<rect class="g" x="119.3" y="109.7" width="30" height="28" rx="5"/>
<rect class="ng" x="127.7" y="112" width="10.7" height="11.7"/><rect class="ng" x="121.7" y="125" width="10.7" height="11.7"/><rect class="ng" x="134.3" y="125" width="10.7" height="11.7"/>
<rect class="ng" x="101.7" y="131" width="11" height="12.7"/>
<rect class="g" x="157" y="105.3" width="32.3" height="38.3" rx="4"/>
<rect class="ng" x="161" y="107" width="11.7" height="11.7"/><rect class="ng" x="174.3" y="107" width="11.7" height="11.7"/><rect class="ng" x="161" y="120.3" width="11.7" height="11"/><text class="nt" x="166.8" y="126.6">Paper</text><rect class="ng" x="174.3" y="120.3" width="11.7" height="11"/><rect class="ng" x="161" y="133" width="11.7" height="10.3"/><text class="nt" x="166.8" y="138.9">Varitrak</text>
</g>

<!-- Card 10 -->
<g id="incision-femto-2" transform="translate(1214,233)">
<text class="ct" y="-7.5">Incision/Femto 2</text>
<rect class="card" width="255" height="155"/>
<text class="st" x="5" y="22">Incision/Femtosecond Laser (LenSx), cont</text>
<use href="#strip" x="180" y="8"/>
<rect class="hg" x="214.1" y="8" width="6.82" height="7"/>
<use href="#tbl" x="5" y="33"/>
<g class="conn">
<path class="l lt" d="M28.4 56H56M79.7 54H112M123 51H157M28.4 69H50V88H56M79.7 88H106.5M146 80H157M28.4 89H50"/>
<path class="l lo" d="M28.4 101H46V104H62M73 104H110M135 106H150V124H166M28.4 139H121M132 139H150"/>
</g>
<rect class="ng" x="17.7" y="50" width="10.7" height="11.5"/><rect class="ng" x="17.7" y="63" width="10.7" height="11.5"/><rect class="ng" x="17.7" y="83" width="10.7" height="11.5"/><rect class="ng" x="17.7" y="96" width="10.7" height="11.5"/><text class="nt" x="23" y="102.5">Surgeon</text><rect class="ng" x="17.7" y="133" width="10.7" height="11.5"/>
<rect class="ng" x="56" y="48" width="10.7" height="11.5"/><rect class="ng" x="69" y="48" width="10.7" height="11.5"/><rect class="ng" x="56" y="64" width="10.7" height="11.5"/>
<rect class="g" x="54" y="80" width="28" height="16" rx="4"/>
<rect class="ng" x="56" y="82" width="10.7" height="11.5"/><rect class="ng" x="69" y="82" width="10.7" height="11.5"/>
<rect class="ng" x="62" y="98.5" width="10.7" height="11.5"/>
<rect class="ng" x="112" y="45" width="10.7" height="11.5"/><rect class="ng" x="126" y="45" width="10.7" height="11.5"/>
<rect class="g" x="104" y="60" width="42" height="28" rx="4"/>
<rect class="ng" x="106.5" y="62.5" width="11" height="11"/><rect class="ng" x="119" y="62.5" width="11" height="11"/><rect class="ng" x="131.5" y="62.5" width="11" height="11"/><rect class="ng" x="106.5" y="75" width="11" height="11"/><rect class="ng" x="119" y="75" width="11" height="11"/>
<rect class="ng" x="110" y="100" width="11" height="11.5"/><rect class="ng" x="124" y="100" width="11" height="11.5"/><rect class="ng" x="110" y="114" width="11" height="11.5"/><rect class="ng" x="121" y="133" width="11" height="11.5"/>
<rect class="g" x="157" y="46" width="32" height="20" rx="4"/>
<rect class="ng" x="160" y="48" width="12" height="16"/><rect class="ng" x="174" y="48" width="12" height="16"/>
<rect class="g" x="157" y="73" width="32" height="22" rx="4"/>
<rect class="ng" x="160" y="76" width="12" height="16"/><rect class="ng" x="174" y="76" width="12" height="16"/><text class="nt" x="180" y="84.5">Paper</text>
<rect class="g" x="157" y="116" width="32" height="20" rx="4"/>
<rect class="ng" x="160" y="118" width="12" height="16"/><rect class="ng" x="174" y="118" width="12" height="16"/>
</g>

<!-- Card 11 -->
<g id="or-prep-1" transform="translate(26,417)">
<text class="ct" y="-8">OR Prep 1</text>
<rect class="card" width="255" height="155"/>
<text class="st" x="5" y="21">OR Prep</text>
<use href="#strip" x="180" y="7"/>
<rect class="hg" x="220.92" y="7" width="6.82" height="7"/>
<circle class="rd" cx="224.3" cy="6.2" r="0.9"/>
<use href="#tbl" x="5" y="32.5"/>
<g class="conn">
<path class="l lb d" d="M30 65.3H50V68H58M137.3 62H145V66H156.7"/>
<path class="l lt" d="M30 77.3H50V73H58M84.7 71.3H109M120.7 71.3H123V62H125.7M123 71.3V78H125.7M137.3 78H145V72H156.7"/>
<path class="l lt" d="M30 108.7H58M84.7 108.7H120M131.3 108.7H160"/>
<path class="l lo" d="M30 134H58M84.7 134H113M136.7 134H160"/>
</g>
<text class="tx" x="10" y="49">Single Button on Workingstat<tspan x="10" dy="2.7">(single-tray sterile-field ports,</tspan><tspan x="10" dy="2.7">injector &amp; lens holder)</tspan></text>
<text class="tx" x="10" y="92.5">Single Button on Workingstat<tspan x="10" dy="2.7">(single-tray sterile-field ports,</tspan><tspan x="10" dy="2.7">sterile field)</tspan></text>
<text class="tx" x="10" y="121.5">Single Button on Workingstat<tspan x="10" dy="2.7">(single-tray)</tspan></text>
<rect class="ng" x="19" y="59.7" width="11" height="11"/><rect class="ng" x="19" y="72" width="11" height="11"/><rect class="ng" x="19" y="103" width="11" height="12"/><rect class="ng" x="19" y="128" width="11" height="12"/><text class="nt" x="24.5" y="134.8">Surgeon</text>
<rect class="g" x="58" y="61.3" width="26.7" height="18.3" rx="4"/>
<rect class="ng" x="60" y="63.3" width="10" height="12"/><rect class="ng" x="71.7" y="63.3" width="10.7" height="12"/>
<rect class="ng" x="109" y="65.3" width="11.7" height="12"/><rect class="ng" x="125.7" y="56.3" width="11" height="11.7"/><rect class="ng" x="125.7" y="72" width="11" height="12"/>
<rect class="g" x="156.7" y="53" width="32.3" height="40" rx="5"/>
<rect class="ng" x="161.7" y="55.3" width="10.7" height="12"/><rect class="ng" x="174" y="55.3" width="11.7" height="12"/><rect class="ng" x="161.7" y="68.7" width="10.7" height="10.7"/><rect class="ng" x="174" y="68.7" width="11.7" height="10.7"/><rect class="ng" x="161.7" y="80.7" width="10.7" height="10.7"/>
<rect class="g" x="58" y="100.7" width="26.7" height="17.3" rx="4"/>
<rect class="ng" x="59.7" y="102.3" width="10.3" height="12.3"/><rect class="ng" x="71.7" y="102.3" width="10.7" height="12.3"/>
<rect class="ng" x="120" y="102" width="11.3" height="12"/>
<rect class="g" x="160" y="100.7" width="27.3" height="17.3" rx="4"/>
<rect class="ng" x="161.7" y="102.3" width="11" height="12.3"/><text class="nt" x="167.2" y="109.3">Planner</text><rect class="ng" x="174" y="102.3" width="11.7" height="12.3"/>
<rect class="g" x="58" y="125.7" width="26.7" height="17.3" rx="4"/>
<rect class="ng" x="59.7" y="127.3" width="10.3" height="13.3"/><text class="nt" x="64.8" y="133.3">Surgical</text><text class="nt" x="64.8" y="135.9">plan</text><rect class="ng" x="71.7" y="127.3" width="10.7" height="13.3"/>
<rect class="ng" x="113" y="127.3" width="11" height="13.3"/><rect class="ng" x="125.7" y="127.3" width="11" height="13.3"/>
<rect class="g" x="160" y="125.7" width="27.3" height="17.3" rx="4"/>
<rect class="ng" x="161.7" y="127.3" width="11" height="12.7"/><text class="nt" x="167.2" y="133">Clinic</text><text class="nt" x="167.2" y="135.6">EMR</text><rect class="ng" x="174" y="127.3" width="11.7" height="12.7"/><text class="nt" x="179.8" y="134.5">Paper</text>
</g>

<!-- Card 12 -->
<g id="or-prep-2" transform="translate(319,417)">
<text class="ct" y="-8">OR Prep  2</text>
<rect class="card" width="255" height="155"/>
<text class="st" x="5" y="21">OR Prep, cont</text>
<use href="#strip" x="180" y="7"/>
<rect class="hg" x="220.92" y="7" width="6.82" height="7"/>
<use href="#tbl" x="5" y="32.5"/>
<g class="conn">
<path class="l lt" d="M28.4 58H62M72.7 58H103M140 58H160M28.4 71H56M80 71H103M28.4 92H56M80 92H103M140 92H160"/>
<path class="l lo" d="M28.4 129H56M93 129H110M121 129H166"/>
</g>
<text class="tx" x="8" y="46">Before case / set-up</text>
<rect class="ng" x="17.7" y="52" width="10.7" height="11.5"/><rect class="ng" x="17.7" y="65" width="10.7" height="11.5"/><rect class="ng" x="17.7" y="86" width="10.7" height="11.5"/><rect class="ng" x="17.7" y="123" width="10.7" height="11.5"/><text class="nt" x="23" y="129.7">Surgeon</text>
<rect class="ng" x="62" y="52" width="10.7" height="11.5"/><text class="nt" x="67.3" y="58.7">Bed</text>
<rect class="ng" x="56" y="65" width="10.7" height="11.5"/><rect class="ng" x="69" y="65" width="10.7" height="11.5"/>
<rect class="ng" x="56" y="86" width="10.7" height="11.5"/><rect class="ng" x="69" y="86" width="10.7" height="11.5"/>
<rect class="g" x="54" y="121" width="40" height="16" rx="4"/>
<rect class="ng" x="56" y="123" width="10.7" height="11.5"/><rect class="ng" x="69" y="123" width="10.7" height="11.5"/><rect class="ng" x="81.5" y="123" width="10.7" height="11.5"/>
<rect class="g" x="103" y="48" width="37" height="30" rx="4"/>
<rect class="ng" x="105.5" y="51" width="10.5" height="11.5"/><rect class="ng" x="117.5" y="51" width="10.5" height="11.5"/><rect class="ng" x="129" y="51" width="10.5" height="11.5"/><rect class="ng" x="105.5" y="64.5" width="10.5" height="11.5"/><rect class="ng" x="117.5" y="64.5" width="10.5" height="11.5"/>
<rect class="g" x="103" y="84" width="37" height="30" rx="4"/>
<rect class="ng" x="105.5" y="87" width="10.5" height="11.5"/><rect class="ng" x="117.5" y="87" width="10.5" height="11.5"/><rect class="ng" x="105.5" y="100.5" width="10.5" height="11.5"/><rect class="ng" x="117.5" y="100.5" width="10.5" height="11.5"/>
<rect class="ng" x="110" y="123" width="11" height="11.5"/>
<rect class="g" x="160" y="48" width="30" height="30" rx="4"/>
<rect class="ng" x="162.5" y="51" width="12" height="12"/><rect class="ng" x="176" y="51" width="12" height="12"/><rect class="ng" x="162.5" y="64.5" width="12" height="12"/><rect class="ng" x="176" y="64.5" width="12" height="12"/>
<rect class="ng" x="162.5" y="86" width="12" height="12"/><rect class="ng" x="176" y="100" width="12" height="12"/><text class="nt" x="182" y="107">CDA</text>
<rect class="ng" x="166" y="123" width="12" height="12"/>
</g>

<!-- Card 13 -->
<g id="phaco-1" transform="translate(614,417)">
<text class="ct" y="-8">Phaco 1</text>
<rect class="card" width="255" height="155"/>
<text class="st" x="5" y="21">Phacoemulsification (Centurion)</text>
<use href="#strip" x="180" y="7"/>
<rect class="hg" x="227.74" y="7" width="6.82" height="7"/>
<circle class="rd" cx="231.2" cy="6" r="0.9"/>
<use href="#tbl" x="5" y="32.5"/>
<g class="conn">
<path class="l lt" d="M29.4 54.7H39.3V62H46M29.4 69H39.3V62M95.7 55H104.3V54H116M104.3 55V68H122M138.7 54H149.3V55H160M133.3 68H149.3V55"/>
<path class="l lo" d="M29.4 82.3H41V64H46M95.7 63H102V82H122M133.3 82H151V69H160"/>
<path class="l lt" d="M29.4 98.7H167.7"/>
<path class="l lt" d="M29.4 121.3H49.3V128H56.7M84 128H106V121.3H122M133.3 121.3H150V128H167.7"/>
<path class="l lo" d="M29.4 135.7H51V130H56.7M106 128V135.7H122M133.3 135.7H150V128"/>
</g>
<text class="tx" x="7.7" y="91">During phaco</text>
<text class="tx" x="7.7" y="108.7">During I/A, Polish &amp; Equip. for case<tspan x="7.7" dy="2.7">(e.g. chamber maintenance)</tspan></text>
<rect class="ng" x="18.7" y="48.7" width="10.7" height="12"/><rect class="ng" x="18.7" y="63" width="10.7" height="12"/><rect class="ng" x="18.7" y="76.3" width="10.7" height="12"/><text class="nt" x="24" y="83">Surgeon</text><rect class="ng" x="18.7" y="93" width="10.7" height="12"/><rect class="ng" x="18.7" y="115.3" width="10.7" height="12"/><rect class="ng" x="18.7" y="129.7" width="10.7" height="12"/><text class="nt" x="24" y="136.4">Surgeon</text>
<rect class="g" x="45.3" y="46.3" width="50.7" height="29" rx="5"/>
<rect class="ng" x="46" y="56.3" width="11" height="11.7"/><rect class="ng" x="58.7" y="48.7" width="10.7" height="12.7"/><rect class="ng" x="72" y="48.7" width="10.7" height="12.7"/><text class="nt" x="77.3" y="55.6">IOL Spec</text><rect class="ng" x="84.3" y="48.7" width="10.7" height="12.7"/><rect class="ng" x="58.7" y="63" width="10.7" height="11.7"/><rect class="ng" x="72" y="63" width="10.7" height="11.7"/>
<rect class="g" x="113.3" y="46.3" width="31" height="15" rx="4"/>
<rect class="ng" x="116" y="48" width="10.7" height="11.7"/><rect class="ng" x="128.7" y="48" width="11.3" height="11.7"/>
<rect class="ng" x="122" y="62" width="11.3" height="12.7"/><rect class="ng" x="122" y="76.3" width="11.3" height="11.7"/>
<rect class="g" x="160" y="46.3" width="28.7" height="29" rx="5"/>
<rect class="ng" x="162.7" y="48.7" width="11" height="12.7"/><text class="nt" x="168.2" y="54.5">Surgical</text><text class="nt" x="168.2" y="57.1">Plan</text><rect class="ng" x="175.3" y="48.7" width="11.3" height="12.7"/><rect class="ng" x="162.7" y="63" width="11" height="11.7"/><text class="nt" x="168.2" y="69.5">Planner</text>
<rect class="ng" x="122" y="93" width="11.3" height="12.3"/><rect class="ng" x="167.7" y="93" width="11" height="12.3"/>
<rect class="g" x="56.7" y="120.7" width="27.7" height="15.7" rx="4"/>
<rect class="ng" x="58.7" y="122" width="10.7" height="12.7"/><rect class="ng" x="71.3" y="122" width="11.3" height="12.7"/>
<rect class="ng" x="122" y="115.3" width="11.3" height="12.7"/><rect class="ng" x="122" y="129.7" width="11.3" height="12.7"/>
<rect class="ng" x="167.7" y="122" width="11" height="12.7"/>
</g>

<!-- Card 14 -->
<g id="phaco-2" transform="translate(914,417)">
<text class="ct" x="4" y="-8">Phaco 2</text>
<rect class="card" width="255" height="155"/>
<text class="st" x="5" y="21">Phacoemulsification (Centurion), cont</text>
<use href="#strip" x="180" y="7"/>
<rect class="hg" x="227.74" y="7" width="6.82" height="7"/>
<use href="#tbl" x="5" y="32.5"/>
<g class="conn">
<path class="l lt" d="M28.4 54H57M81 54H108M131 54H163M28.4 67H45V58H57M28.4 101H112M123 101H163M28.4 114H45V101"/>
<path class="l lo" d="M28.4 80H50V62H57M81 62H100V80H112M123 80H150V67H163M28.4 131H112M123 131H163"/>
</g>
<text class="tx" x="8" y="94">During phaco</text>
<rect class="ng" x="17.7" y="48" width="10.7" height="11.5"/><rect class="ng" x="17.7" y="61" width="10.7" height="11.5"/><rect class="ng" x="17.7" y="74" width="10.7" height="11.5"/><text class="nt" x="23" y="80.5">Surgeon</text><rect class="ng" x="17.7" y="95" width="10.7" height="11.5"/><rect class="ng" x="17.7" y="108" width="10.7" height="11.5"/><rect class="ng" x="17.7" y="125" width="10.7" height="11.5"/><text class="nt" x="23" y="131.5">Surgeon</text>
<rect class="g" x="55" y="46" width="28" height="28" rx="4"/>
<rect class="ng" x="57" y="48" width="11" height="11.5"/><rect class="ng" x="70" y="48" width="11" height="11.5"/><rect class="ng" x="57" y="61" width="11" height="11.5"/><rect class="ng" x="70" y="61" width="11" height="11.5"/>
<rect class="g" x="106" y="46" width="27" height="16" rx="4"/>
<rect class="ng" x="108" y="48" width="11" height="12"/><rect class="ng" x="121" y="48" width="11" height="12"/>
<rect class="ng" x="112" y="74" width="11" height="12"/><rect class="ng" x="112" y="95" width="11" height="12"/><text class="nt" x="117.5" y="102">CDA</text><rect class="ng" x="112" y="125" width="11" height="12"/>
<rect class="ng" x="58" y="125" width="11" height="12"/>
<rect class="g" x="160" y="46" width="29" height="28" rx="4"/>
<rect class="ng" x="162.5" y="48" width="11.5" height="12"/><rect class="ng" x="175.5" y="48" width="11.5" height="12"/><rect class="ng" x="162.5" y="61" width="11.5" height="11.5"/>
<rect class="ng" x="163" y="95" width="11.5" height="12"/><rect class="ng" x="163" y="125" width="11.5" height="12"/>
</g>

<!-- Card 15 -->
<g id="aphakic-measurement" transform="translate(1214,417)">
<text class="ct" x="3" y="-8">Aphakic Measurement &amp; IOL Selection (ORA)</text>
<rect class="card" width="255" height="155"/>
<text class="st" x="5" y="21">Aphakic Measurement &amp; IOL Selection (ORA)</text>
<use href="#strip" x="180" y="7"/>
<rect class="hg" x="227.74" y="7" width="6.82" height="7"/>
<use href="#tbl" x="5" y="32.5"/>
<g class="conn">
<path class="l lt" d="M28.4 66H55M82 66H104M143 62H160M28.4 78H45V66M28.4 107H104M115 107H160"/>
<path class="l lo" d="M28.4 131H55M82 131H104M115 131H150V90H160"/>
</g>
<rect class="ng" x="17.7" y="60" width="10.7" height="11.5"/><rect class="ng" x="17.7" y="72.5" width="10.7" height="11.5"/><rect class="ng" x="17.7" y="101" width="10.7" height="11.5"/><rect class="ng" x="17.7" y="125" width="10.7" height="11.5"/><text class="nt" x="23" y="131.5">Surgeon</text>
<rect class="ng" x="48" y="50" width="11" height="11.5"/><rect class="ng" x="62" y="50" width="11" height="11.5"/>
<rect class="g" x="54" y="62" width="28" height="16" rx="4"/>
<rect class="ng" x="56" y="64" width="11" height="12"/><rect class="ng" x="69" y="64" width="11" height="12"/>
<rect class="g" x="54" y="124" width="28" height="16" rx="4"/>
<rect class="ng" x="56" y="126" width="11" height="12"/><rect class="ng" x="69" y="126" width="11" height="12"/>
<rect class="g" x="102" y="48" width="41" height="30" rx="4"/>
<rect class="ng" x="104.5" y="50.5" width="11" height="12"/><rect class="ng" x="117.5" y="50.5" width="11" height="12"/><rect class="ng" x="130" y="50.5" width="11" height="12"/><rect class="ng" x="104.5" y="64" width="11" height="12"/><rect class="ng" x="117.5" y="64" width="11" height="12"/>
<rect class="ng" x="104" y="101" width="11" height="12"/><rect class="ng" x="104" y="125" width="11" height="12"/><rect class="ng" x="118" y="88" width="11" height="12"/>
<rect class="ng" x="165" y="50" width="11" height="12"/><rect class="ng" x="165" y="66" width="11" height="12"/>
<rect class="g" x="158" y="82" width="31" height="42" rx="5"/>
<rect class="ng" x="161" y="85" width="12" height="12"/><text class="nt" x="167" y="91">Clinic</text><text class="nt" x="167" y="93.6">EMR</text><rect class="ng" x="175" y="85" width="12" height="12"/><text class="nt" x="181" y="92.3">Paper</text><rect class="ng" x="161" y="100" width="12" height="11"/><rect class="ng" x="175" y="100" width="12" height="11"/><rect class="ng" x="161" y="112" width="12" height="10"/>
<rect class="ng" x="165" y="126" width="11" height="12"/>
</g>

<!-- Card 16 -->
<g id="phaco-3" transform="translate(26,609)">
<text class="ct" y="-9">Phaco 3</text>
<rect class="card" width="255" height="155"/>
<text class="st" x="5" y="21">Phacoemulsification (Centurion), cont</text>
<use href="#strip" x="180" y="6"/>
<rect class="hg" x="227.74" y="6" width="6.82" height="7"/>
<circle class="rd" cx="230.7" cy="5.3" r="0.9"/>
<use href="#tbl" x="5" y="32"/>
<g class="conn">
<path class="l lt" d="M29 61.7H65M75.7 61.7H104V54H115.7M126.7 54H167.3M104 61.7V63H129"/>
<path class="l lo" d="M29 77.7H56.7M84.7 77.7H109.7M100 77.7V112H109.7M100 94.3H109.7M144 77.7H155.7V77H167.3M144 94.3H155.7V77M144 112H155.7V94"/>
<path class="l lo d" d="M45.7 78V118H65M149 94V125H160"/>
<path class="l lt" d="M29 135H48V120.7H65M48 135H65M75.7 134.7H114.7M100 134.7V126.3H128.3M125.7 134.7H128.3V141"/>
<path class="l lt d" d="M75.7 121.7H105V118H160"/>
</g>
<text class="tx" x="9" y="49.5">When things start up according<tspan x="9" dy="2.7">to pre-set parameters</tspan></text>
<rect class="ng" x="18" y="56" width="11" height="12.3"/><rect class="ng" x="18" y="71" width="11" height="12"/><text class="nt" x="23.5" y="77.7">Surgeon</text><rect class="ng" x="18" y="129.3" width="11" height="12.3"/>
<rect class="ng" x="65" y="56" width="10.7" height="12.3"/>
<rect class="ng" x="115.7" y="48.3" width="11" height="12"/><rect class="ng" x="129" y="57" width="10.7" height="11.7"/>
<rect class="ng" x="167.3" y="48.3" width="11.7" height="12"/>
<rect class="g" x="56.7" y="70.3" width="28" height="14.7" rx="4"/>
<rect class="ng" x="58" y="71.7" width="11" height="12.7"/><rect class="ng" x="71.3" y="71.7" width="11" height="12.7"/>
<rect class="ng" x="109.7" y="71.7" width="11.7" height="12"/><rect class="ng" x="123.3" y="71.7" width="20.7" height="12"/>
<rect class="ng" x="109.7" y="88.3" width="11.7" height="12"/><rect class="ng" x="123.3" y="88.3" width="20.7" height="12"/>
<rect class="ng" x="109.7" y="106" width="11.7" height="12"/><rect class="ng" x="123.3" y="106" width="20.7" height="12"/>
<rect class="ng" x="167.3" y="71" width="11.7" height="12.7"/>
<text class="tx" x="160" y="99.5" style="font-size:1.7px">Note: If lens does not properly<tspan x="160" dy="2.3">centre/sit, the surgeon may re-</tspan><tspan x="160" dy="2.3">select and replace with the</tspan><tspan x="160" dy="2.3">back-up lens (IOL)</tspan></text>
<rect class="g" x="160" y="118.3" width="26.7" height="15.3" rx="4"/>
<rect class="ng" x="161.3" y="120.3" width="11" height="12.3"/><rect class="ng" x="174" y="120.3" width="10.7" height="12.3"/><text class="nt" x="179.3" y="127.3">Paper</text>
<rect class="ng" x="65" y="115" width="10.7" height="12"/><rect class="ng" x="65" y="128.3" width="10.7" height="12"/>
<rect class="ng" x="114.7" y="128.3" width="11" height="12"/><rect class="ng" x="128.3" y="120.3" width="10.7" height="12.3"/><rect class="ng" x="128.3" y="135" width="10.7" height="12"/>
</g>

<!-- Card 17 -->
<g id="iol-implantation-1" transform="translate(319,609)">
<text class="ct" y="-9">IOL Implantation / End Surgery 1</text>
<rect class="card" width="255" height="155"/>
<text class="st" x="5" y="21">IOL Implantation / End Surgery</text>
<use href="#strip" x="180" y="6"/>
<rect class="hg" x="234.56" y="6" width="6.82" height="7"/>
<use href="#tbl" x="5" y="32"/>
<g class="conn">
<path class="l lt" d="M28.4 56H56M82 56H106M138 56H160M28.4 70H45V56M28.4 126H56M82 126H110M121 126H160"/>
<path class="l lo" d="M28.4 86H50V62H56M82 68H95V92H106M138 92H150V70H160M28.4 138H50V130H56"/>
</g>
<text class="tx" x="8" y="112">Lens ends / table to engage<tspan x="8" dy="2.7">post-op instructions</tspan></text>
<rect class="ng" x="17.7" y="50" width="10.7" height="11.5"/><rect class="ng" x="17.7" y="64" width="10.7" height="11.5"/><rect class="ng" x="17.7" y="80" width="10.7" height="11.5"/><text class="nt" x="23" y="86.5">Surgeon</text><rect class="ng" x="17.7" y="120" width="10.7" height="11.5"/><rect class="ng" x="17.7" y="133" width="10.7" height="11.5"/>
<rect class="g" x="54" y="48" width="28" height="28" rx="4"/>
<rect class="ng" x="56" y="50" width="11" height="11.5"/><rect class="ng" x="69" y="50" width="11" height="11.5"/><rect class="ng" x="56" y="63" width="11" height="11.5"/><rect class="ng" x="69" y="63" width="11" height="11.5"/>
<rect class="g" x="104" y="48" width="34" height="16" rx="4"/>
<rect class="ng" x="106" y="50" width="10.5" height="12"/><rect class="ng" x="118" y="50" width="10.5" height="12"/>
<rect class="ng" x="106" y="86" width="11" height="12"/><rect class="ng" x="120" y="86" width="11" height="12"/>
<rect class="g" x="54" y="120" width="28" height="16" rx="4"/>
<rect class="ng" x="56" y="122" width="11" height="12"/><rect class="ng" x="69" y="122" width="11" height="12"/>
<rect class="ng" x="110" y="120" width="11" height="12"/>
<rect class="g" x="158" y="48" width="30" height="30" rx="4"/>
<rect class="ng" x="160.5" y="50.5" width="12" height="12"/><text class="nt" x="166.5" y="57.3">IOL</text><rect class="ng" x="174" y="50.5" width="12" height="12"/><rect class="ng" x="160.5" y="64" width="12" height="12"/><rect class="ng" x="174" y="64" width="12" height="12"/><text class="nt" x="180" y="70.8">Paper</text>
<rect class="g" x="158" y="118" width="30" height="18" rx="4"/>
<rect class="ng" x="160.5" y="120.5" width="12" height="13"/><text class="nt" x="166.5" y="126.5">Clinic</text><text class="nt" x="166.5" y="129.1">EMR</text><rect class="ng" x="174" y="120.5" width="12" height="13"/>
</g>

<!-- Card 18 -->
<g id="iol-implantation-2" transform="translate(614,609)">
<text class="ct" y="-9">IOL Implantation / End Surgery 2</text>
<rect class="card" width="255" height="155"/>
<text class="st" x="5" y="21">IOL Implantation / End Surgery, cont</text>
<use href="#strip" x="180" y="6"/>
<rect class="hg" x="234.56" y="6" width="6.82" height="7"/>
<use href="#tbl" x="5" y="32"/>
<g class="conn">
<path class="l lt" d="M28.4 57H58M70 57H112M123 57H163M28.4 104H58M70 104H112M123 104H163"/>
<path class="l lo" d="M28.4 70H45V90H58M70 90H100V76H112M123 76H150V94H163M28.4 126H112M123 126H150V108"/>
</g>
<text class="tx" x="8" y="46">At the end of the surgery, discharge<tspan x="8" dy="2.7">patient / check next patient</tspan></text>
<rect class="ng" x="17.7" y="51" width="10.7" height="11.5"/><rect class="ng" x="17.7" y="64" width="10.7" height="11.5"/><text class="nt" x="23" y="70.5">Surgeon</text><rect class="ng" x="17.7" y="98" width="10.7" height="11.5"/><rect class="ng" x="17.7" y="120" width="10.7" height="11.5"/>
<rect class="ng" x="58" y="51" width="11" height="12"/><rect class="ng" x="58" y="84" width="11" height="12"/><rect class="ng" x="58" y="98" width="11" height="12"/>
<rect class="ng" x="112" y="51" width="11" height="12"/><rect class="ng" x="112" y="70" width="11" height="12"/><rect class="ng" x="112" y="98" width="11" height="12"/><rect class="ng" x="112" y="120" width="11" height="12"/>
<rect class="ng" x="166" y="51" width="12" height="12"/><text class="nt" x="172" y="58">ETL</text>
<rect class="g" x="158" y="84" width="30" height="17" rx="4"/>
<rect class="ng" x="160.5" y="86.5" width="12" height="12.5"/><rect class="ng" x="174" y="86.5" width="12" height="12.5"/><text class="nt" x="180" y="93.5">Paper</text>
<rect class="ng" x="166" y="110" width="12" height="12"/><text class="nt" x="172" y="117">CDA</text>
</g>

<!-- Card 19 -->
<g id="post-op-1" transform="translate(914,609)">
<text class="ct" y="-9">Post-op / Learnings / AI 1</text>
<rect class="card" width="255" height="155"/>
<text class="st" x="5" y="21">Post-op / Learnings / AI</text>
<use href="#strip" x="180" y="6"/>
<rect class="hb" x="248.2" y="6" width="6.82" height="7"/>
<use href="#tbl" x="5" y="32"/>
<g class="conn">
<path class="l lb" d="M28.4 55H51M81 55H104M142 55H158M28.4 68H45V55M28.4 96H51M81 96H104M142 96H158"/>
<path class="l lo" d="M28.4 80H48V62M28.4 112H48V100H51M81 112H104M142 112H150V100M28.4 136H104M142 136H158"/>
</g>
<text class="tx" x="8" y="45">1. Visual recovery</text>
<text class="tx" x="8" y="90">2. Long-term results</text>
<rect class="nb" x="17.7" y="49" width="10.7" height="11.5"/><rect class="nb" x="17.7" y="62" width="10.7" height="11.5"/><rect class="nb" x="17.7" y="75" width="10.7" height="11.5"/><text class="nt" x="23" y="81.5">Surgeon</text><rect class="nb" x="17.7" y="106" width="10.7" height="11.5"/><rect class="nb" x="17.7" y="130" width="10.7" height="11.5"/>
<rect class="g" x="51" y="46" width="30" height="30" rx="4"/>
<rect class="nb" x="53.5" y="48.5" width="11.5" height="12"/><rect class="nb" x="67" y="48.5" width="11.5" height="12"/><rect class="nb" x="53.5" y="62" width="11.5" height="12"/><rect class="nb" x="67" y="62" width="11.5" height="12"/>
<rect class="g" x="51" y="90" width="30" height="28" rx="4"/>
<rect class="nb" x="53.5" y="92.5" width="11.5" height="11.5"/><rect class="nb" x="67" y="92.5" width="11.5" height="11.5"/><rect class="nb" x="53.5" y="105" width="11.5" height="11.5"/>
<rect class="g" x="104" y="46" width="38" height="30" rx="4"/>
<rect class="nb" x="106.5" y="48.5" width="11" height="12"/><text class="nt" x="112" y="55.3">Visual</text><rect class="nb" x="119" y="48.5" width="11" height="12"/><rect class="nb" x="131" y="48.5" width="9.5" height="12"/><rect class="nb" x="106.5" y="62" width="11" height="12"/><rect class="nb" x="119" y="62" width="11" height="12"/>
<rect class="g" x="104" y="88" width="38" height="30" rx="4"/>
<rect class="nb" x="106.5" y="90.5" width="11" height="12"/><text class="nt" x="112" y="97.3">Visual</text><rect class="nb" x="119" y="90.5" width="11" height="12"/><rect class="nb" x="131" y="90.5" width="9.5" height="12"/><rect class="nb" x="106.5" y="104" width="11" height="12"/><rect class="nb" x="119" y="104" width="11" height="12"/>
<rect class="nb" x="110" y="130" width="11" height="12"/><rect class="nb" x="124" y="130" width="11" height="12"/>
<rect class="g" x="156" y="44" width="33" height="34" rx="4"/>
<rect class="nb" x="158.5" y="47" width="13" height="13"/><text class="nt" x="165" y="54.3">Clinic</text><rect class="nb" x="174" y="47" width="13" height="13"/><rect class="nb" x="158.5" y="62" width="13" height="13"/><rect class="nb" x="174" y="62" width="13" height="13"/><text class="nt" x="180.5" y="69.3">Paper</text>
<rect class="g" x="156" y="90" width="33" height="18" rx="4"/>
<rect class="nb" x="158.5" y="92.5" width="13" height="13"/><rect class="nb" x="174" y="92.5" width="13" height="13"/>
<rect class="nb" x="160" y="130" width="12" height="12"/>
</g>

<!-- Card 20 -->
<g id="post-op-2" transform="translate(1214,609)">
<text class="ct" y="-9">Post-op / Learnings / AI 2</text>
<rect class="card" width="255" height="155"/>
<text class="st" x="5" y="21">Post-op / Learnings / AI, cont</text>
<use href="#strip" x="180" y="6"/>
<rect class="hb" x="248.2" y="6" width="6.82" height="7"/>
<circle class="rd" cx="252" cy="5.3" r="0.9"/>
<use href="#tbl" x="5" y="32"/>
<g class="conn">
<path class="l lb" d="M29.4 62H45V57.7H51M81 57.7H86M97 57.7H110.3M142.6 57.7H154V66H159.3"/>
<path class="l lo" d="M29.4 75.5H51M81 75.5H104.3M94 75.5V112H104.3M94 94H104.3M149.3 75.5H155V70H159.3M149.3 94H155V75M149.3 112H155V80"/>
<path class="l lo d" d="M44 76V114H51M81 112H94M91 58V70"/>
<path class="l lo" d="M29.4 133.7H121M132 133.7H155V85"/>
</g>
<text class="tx" x="10.3" y="50.3">1. Identifies / Learning from<tspan x="10.3" dy="2.5">reports</tspan></text>
<text class="tx" x="10.3" y="122.7">Image trend analysis</text>
<rect class="nb" x="18.7" y="56" width="10.7" height="12.3"/><rect class="nb" x="18.7" y="69.3" width="10.7" height="12.3"/><rect class="nb" x="18.7" y="127.7" width="10.7" height="12.3"/><text class="nt" x="24" y="134.5">Surgeon</text>
<rect class="g" x="51" y="48.3" width="30" height="16.7" rx="4"/>
<rect class="nb" x="53.7" y="50.3" width="11.3" height="12.3"/><rect class="nb" x="67" y="50.3" width="11.3" height="12.3"/>
<rect class="nb" x="86" y="50.3" width="11" height="11.3"/><text class="nt" x="91.5" y="55.5">Shared</text><text class="nt" x="91.5" y="58.1">analytics</text>
<rect class="g" x="110.3" y="48.3" width="32.3" height="15.3" rx="4"/>
<rect class="nb" x="114.3" y="50.3" width="11" height="11.3"/><rect class="nb" x="127" y="50.3" width="11" height="11.3"/>
<rect class="g" x="51" y="67.7" width="30" height="16" rx="4"/>
<rect class="nb" x="53.7" y="69.3" width="11.3" height="12.3"/><rect class="nb" x="67" y="69.3" width="11.3" height="12.3"/>
<text class="tx" x="102.7" y="66.5" style="font-size:1.7px">Model deviation:</text>
<rect class="nb" x="104.3" y="69.3" width="11.7" height="13.3"/>
<rect class="g" x="119.3" y="67.7" width="30" height="16" rx="4"/>
<rect class="nb" x="121.7" y="69.3" width="12" height="12.3"/><rect class="nb" x="136" y="69.3" width="11" height="12.3"/><text class="nt" x="141.5" y="76">Elevate</text>
<text class="tx" x="102.7" y="85" style="font-size:1.7px">Refraction deviation:</text>
<rect class="nb" x="104.3" y="87.7" width="11.7" height="12.7"/>
<rect class="g" x="119.3" y="86" width="30" height="16.7" rx="4"/>
<rect class="nb" x="121.7" y="87.7" width="12" height="12.7"/><rect class="nb" x="136" y="87.7" width="11" height="12.7"/>
<text class="tx" x="102.7" y="104" style="font-size:1.7px">Error deviation:</text>
<rect class="nb" x="104.3" y="106" width="11.7" height="13.3"/>
<rect class="g" x="119.3" y="105" width="30" height="16" rx="4"/>
<rect class="nb" x="121.7" y="106.7" width="12" height="12.3"/><rect class="nb" x="136" y="106.7" width="11" height="12.3"/>
<text class="tx" x="136" y="123.5" style="font-size:1.6px">Use for review of<tspan x="136" dy="2.2">errors by a QA</tspan><tspan x="136" dy="2.2">committee</tspan></text>
<rect class="g" x="51" y="106" width="30" height="16.7" rx="4"/>
<rect class="nb" x="53.7" y="107.7" width="11.3" height="12.7"/><rect class="nb" x="67" y="107.7" width="11.3" height="12.7"/>
<rect class="nb" x="67" y="127" width="10.7" height="12.3"/><rect class="nb" x="121" y="127" width="11" height="12.3"/>
<rect class="g" x="159.3" y="58.3" width="30.7" height="27.7" rx="5"/>
<rect class="nb" x="161.7" y="60.3" width="12" height="12.3"/><text class="nt" x="167.7" y="67.2">Patient</text><rect class="nb" x="175.3" y="60.3" width="11.7" height="12.3"/><text class="nt" x="181.2" y="66">Clinic</text><text class="nt" x="181.2" y="68.6">EMR</text><rect class="nb" x="175.3" y="73.7" width="11.7" height="11.3"/><text class="nt" x="181.2" y="80">Paper</text>
</g>
</svg>
